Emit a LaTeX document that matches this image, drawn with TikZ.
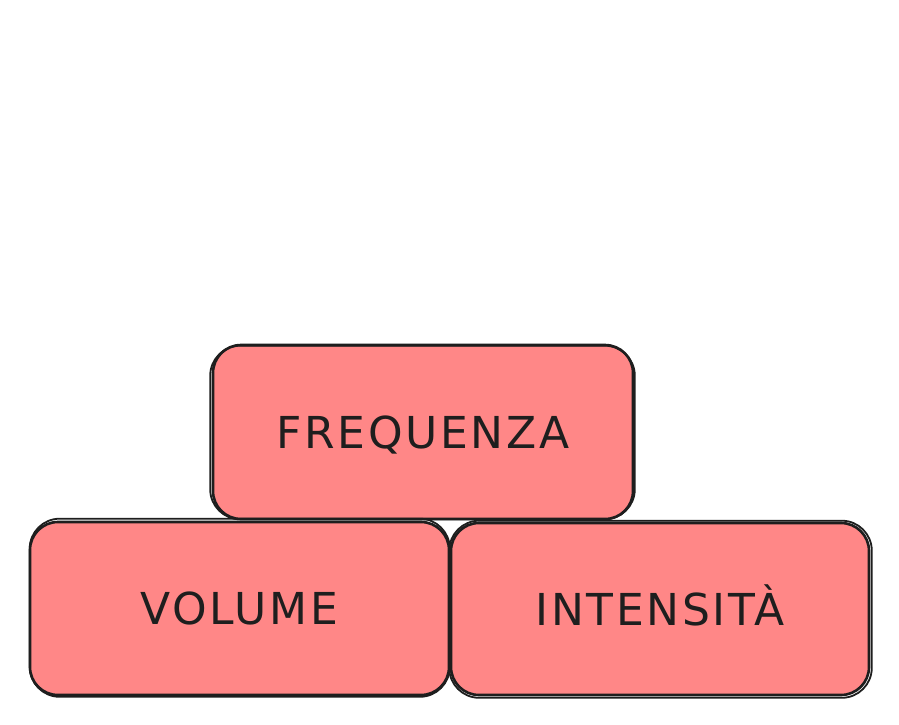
\documentclass[tikz,border=0pt]{standalone}
\usepackage{fontspec}
\newfontfamily\handfont[LetterSpace=6]{DejaVu Sans}
\definecolor{boxfill}{HTML}{FF8787}
\definecolor{boxline}{HTML}{1E1E1E}
\tikzset{
  block/.style={draw=boxline, fill=boxfill, line width=2.6pt,
    rounded corners=28pt, inner sep=0pt, text height=32pt, text depth=0pt,
    font=\handfont\fontsize{44}{44}\selectfont, text=boxline},
  sketch/.style={draw=boxline, line width=1.8pt, rounded corners=30pt}
}
\begin{document}
\begin{tikzpicture}[x=1pt,y=-1pt]
\useasboundingbox[fill=white] (0,0) rectangle (899,725);
% blocks
\node[block, minimum width=420pt, minimum height=174pt] (freq) at (423,432) {FREQUENZA};
\node[block, minimum width=419pt, minimum height=173pt] (vol) at (239.5,608.5) {VOLUME};
\node[block, minimum width=418pt, minimum height=172pt] (inten) at (660,609) {INTENSITÀ};
% second, rougher outline
\draw[sketch] ([shift={(-1.5pt,1pt)}]freq.south west) rectangle ([shift={(0.5pt,-2pt)}]freq.north east);
\draw[sketch] ([shift={(1pt,-0.5pt)}]vol.south west) rectangle ([shift={(-0.5pt,2pt)}]vol.north east);
\draw[sketch] ([shift={(-0.5pt,-1.5pt)}]inten.south west) rectangle ([shift={(1.5pt,1pt)}]inten.north east);
\end{tikzpicture}
\end{document}
